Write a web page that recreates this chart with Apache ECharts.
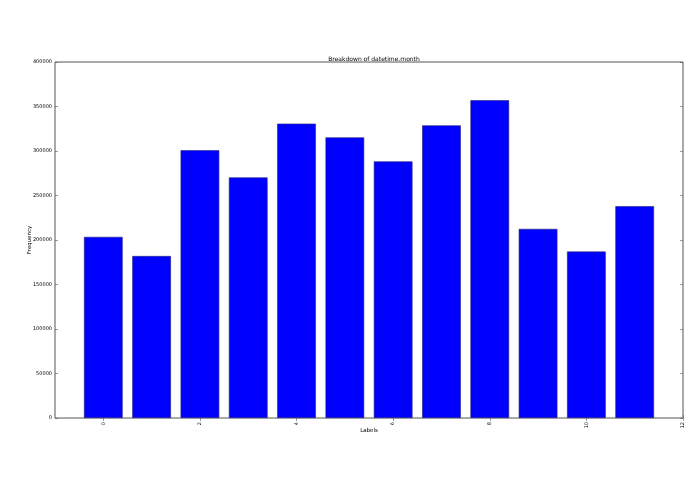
<!DOCTYPE html>
<html><head><meta charset="utf-8">
<script src="https://cdn.jsdelivr.net/npm/echarts@6/dist/echarts.min.js"></script>
<style>html,body{margin:0;padding:0;background:#fff}#c{width:695px;height:494px}</style>
</head><body><div id="c"></div>
<script>
var months = [0, 1, 2, 3, 4, 5, 6, 7, 8, 9, 10, 11];
var counts = [203500, 182000, 300800, 270300, 330700, 315300, 288300, 328800, 357000, 212500, 187000, 238000];
var xRange = [-1, 12];
var xTickLabels = ['0', '2', '4', '6', '8', '10', '12'];
var yTicks = [0, 50000, 100000, 150000, 200000, 250000, 300000, 350000, 400000];

var cats = [];
for (var v = xRange[0]; v <= xRange[1]; v++) cats.push(String(v));
var seriesData = cats.map(function (c) {
  var i = months.indexOf(Number(c));
  return i >= 0 ? counts[i] : null;
});
function showTick(idx, val) { return xTickLabels.indexOf(String(val)) >= 0; }

var font = 'DejaVu Sans';
var chart = echarts.init(document.getElementById('c'), null, {renderer: 'canvas'});
chart.setOption({
  animation: false,
  backgroundColor: '#fff',
  title: {
    text: 'Breakdown of datetime.month', left: 369, textAlign: 'center', top: 51,
    textStyle: {fontFamily: font, fontSize: 6, fontWeight: 'normal', color: '#000'}
  },
  grid: {left: 55, right: 12, top: 62, bottom: 76, show: true, borderColor: '#555', borderWidth: 1, backgroundColor: '#fff'},
  xAxis: [{
    type: 'category', data: cats, boundaryGap: false, position: 'bottom',
    name: 'Labels', nameLocation: 'middle', nameGap: 10, nameMoveOverlap: false,
    nameTextStyle: {fontFamily: font, fontSize: 5.5, color: '#000'},
    axisLine: {show: false},
    axisTick: {show: true, inside: true, length: 3, interval: showTick, lineStyle: {color: '#555', width: 0.6}},
    axisLabel: {show: true, interval: showTick, rotate: 90, fontFamily: font, fontSize: 5, color: '#000', margin: 4},
    splitLine: {show: false}
  }, {
    type: 'category', data: cats, boundaryGap: false, position: 'top',
    axisLine: {show: false},
    axisTick: {show: true, inside: true, length: 3, interval: showTick, lineStyle: {color: '#555', width: 0.6}},
    axisLabel: {show: false}, splitLine: {show: false}
  }],
  yAxis: [{
    type: 'value', min: yTicks[0], max: yTicks[yTicks.length - 1], interval: yTicks[1] - yTicks[0],
    name: 'Frequency', nameLocation: 'middle', nameGap: 22, nameRotate: 90, nameMoveOverlap: false,
    nameTextStyle: {fontFamily: font, fontSize: 5.5, color: '#000'},
    axisLine: {show: false},
    axisTick: {show: true, inside: true, length: 3, lineStyle: {color: '#555', width: 0.6}},
    axisLabel: {fontFamily: font, fontSize: 5, color: '#000', margin: 3, formatter: function (v) { return String(v); }},
    splitLine: {show: false}
  }, {
    type: 'value', min: yTicks[0], max: yTicks[yTicks.length - 1], interval: yTicks[1] - yTicks[0], position: 'right',
    axisLine: {show: false},
    axisTick: {show: true, inside: true, length: 3, lineStyle: {color: '#555', width: 0.6}},
    axisLabel: {show: false}, splitLine: {show: false}
  }],
  series: [{
    type: 'bar', xAxisIndex: 0, yAxisIndex: 0, data: seriesData, barWidth: '80%',
    itemStyle: {color: '#0000ff', borderColor: '#22227a', borderWidth: 0.6}
  }]
});
</script></body></html>
